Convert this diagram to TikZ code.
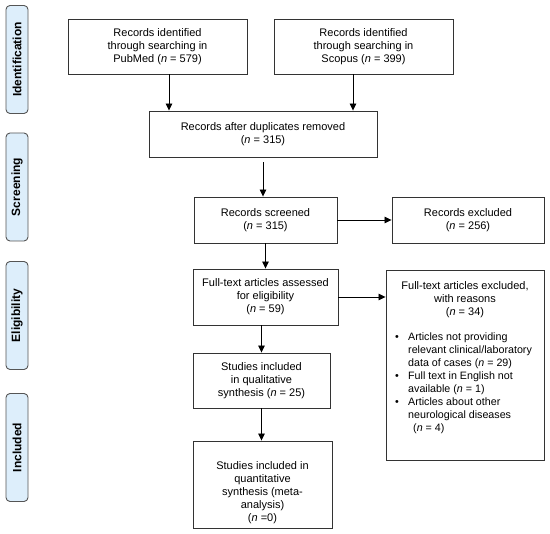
\documentclass[tikz,border=0pt]{standalone}
\usepackage{fontspec}
\setmainfont{Liberation Sans}
\usetikzlibrary{arrows.meta,calc}
\definecolor{sidefill}{HTML}{DDEEFB}
\definecolor{sideline}{HTML}{555555}
\definecolor{boxline}{HTML}{333333}
\begin{document}
\begin{tikzpicture}[x=1pt,y=1pt,
  every node/.style={font=\fontsize{11pt}{13pt}\selectfont},
  box/.style={draw=boxline, line width=0.9pt, align=center, inner sep=0pt},
  side/.style={draw=sideline, fill=sidefill, line width=0.9pt, rounded corners=4pt,
    rotate=90, minimum width=108pt, minimum height=22pt, inner sep=0pt,
    font=\fontsize{12pt}{14pt}\selectfont\bfseries},
  txt/.style={inner sep=0pt},
  arr/.style={draw=black, line width=0.8pt, -{Triangle[length=7pt,width=6.5pt]}}]
\useasboundingbox (0,0) rectangle (550,-534);
% side labels
\node[side] (sid) at (17,-59.5) {Identification};
\node[side] (sscr) at (17,-187) {Screening};
\node[side] (selig) at (17,-315.5) {Eligibility};
\node[side] (sinc) at (17,-447.5) {Included};
% boxes
\node[box, minimum width=179pt, minimum height=55pt] (pub) at (157.5,-46.5)
  {Records identified\\through searching in\\PubMed (\textit{n} = 579)};
\node[box, minimum width=179pt, minimum height=55pt] (sco) at (363.5,-46.5)
  {Records identified\\through searching in\\Scopus (\textit{n} = 399)};
\node[box, minimum width=228pt, minimum height=46pt] (dup) at (263,-134)
  {Records after duplicates removed\\(\textit{n} = 315)};
\node[box, minimum width=143pt, minimum height=46pt] (scr) at (265.5,-220)
  {Records screened\\(\textit{n} = 315)};
\node[box, minimum width=152pt, minimum height=46pt] (exc1) at (468,-220)
  {Records excluded\\(\textit{n} = 256)};
\node[box, minimum width=145pt, minimum height=56pt] (ft) at (265.5,-297)
  {Full-text articles assessed\\for eligibility\\(\textit{n} = 59)};
\node[box, minimum width=158pt, minimum height=190pt] (exc2) at (465,-365) {};
\node[txt, anchor=north, align=center] (exc2h) at (465,-281)
  {Full-text articles excluded,\\with reasons\\(\textit{n} = 34)};
\node[txt, anchor=north west, font=\fontsize{10.7pt}{13pt}\selectfont] (exc2b) at (395,-331)
  {\begin{tabular}{@{}p{13pt}@{}l@{}}
   • & Articles not providing\\
     & relevant clinical/laboratory\\
     & data of cases (\textit{n} = 29)\\
   • & Full text in English not\\
     & available (\textit{n} = 1)\\
   • & Articles about other\\
     & neurological diseases\\
     & \hspace*{5pt}(\textit{n} = 4)
   \end{tabular}};
\node[box, minimum width=137pt, minimum height=55pt] (qual) at (261.5,-380.5)
  {Studies included\\in qualitative\\synthesis (\textit{n} = 25)};
\node[box, minimum width=139pt, minimum height=87pt] (quan) at (262.5,-484.5) {};
\node[txt, align=center] (quant) at (262.5,-492.5)
  {Studies included in\\quantitative\\synthesis (meta-\\analysis)\\(\textit{n} =0)};
% arrows
\draw[arr] ([xshift=11.5pt]pub.south) -- ([xshift=11.5pt]pub.south |- dup.north);
\draw[arr] ([xshift=-10.5pt]sco.south) -- ([xshift=-10.5pt]sco.south |- dup.north);
\draw[arr] ([yshift=-5pt]dup.south) -- (dup.south |- scr.north);
\draw[arr] (scr.south) -- (scr.south |- ft.north);
\draw[arr] (scr.east) -- (scr.east -| exc1.west);
\draw[arr] (ft.east) -- (ft.east -| exc2.west);
\draw[arr] (qual.north |- ft.south) -- (qual.north);
\draw[arr] (qual.south) -- (qual.south |- quan.north);
\end{tikzpicture}
\end{document}
